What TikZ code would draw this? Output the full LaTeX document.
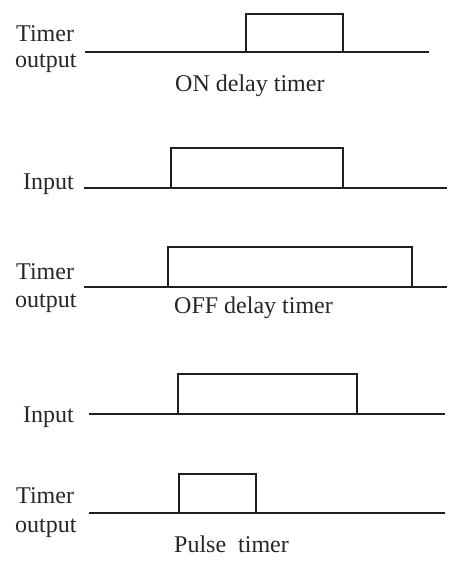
\documentclass[tikz,border=0pt]{standalone}
\usepackage{fontspec}
\setmainfont{Liberation Serif}
\begin{document}
\begin{tikzpicture}[x=1pt,y=-1pt,
  lbl/.style={anchor=base west,inner sep=0pt,font=\fontsize{24}{26}\selectfont,black!85},
  wave/.style={line width=2.8pt,line cap=butt,line join=miter,black!88}]
\useasboundingbox (0,0) rectangle (474,564);
% Panel 1: ON delay timer output
\draw[wave] (85,52) -- (429,52);
\draw[wave] (246,52) -- (246,14) -- (343,14) -- (343,52);
\node[lbl] (t1) at (16,42) {Timer};
\node[lbl] (o1) at (15,68) {output};
\node[lbl] (c1) at (175,92) {ON delay timer};
% Panel 2: Input
\draw[wave] (84,188) -- (447,188);
\draw[wave] (171,188) -- (171,148) -- (343,148) -- (343,188);
\node[lbl] (i2) at (23,189) {Input};
% Panel 3: OFF delay timer output
\draw[wave] (84,287) -- (447,287);
\draw[wave] (168,287) -- (168,247) -- (412,247) -- (412,287);
\node[lbl] (t3) at (16,279) {Timer};
\node[lbl] (o3) at (15,307) {output};
\node[lbl] (c3) at (174,313) {OFF delay timer};
% Panel 4: Input
\draw[wave] (89,414) -- (445,414);
\draw[wave] (178,414) -- (178,374) -- (357,374) -- (357,414);
\node[lbl] (i4) at (23,422) {Input};
% Panel 5: Pulse timer output
\draw[wave] (89,513) -- (445,513);
\draw[wave] (179,513) -- (179,474) -- (256,474) -- (256,513);
\node[lbl] (t5) at (16,503) {Timer};
\node[lbl] (o5) at (15,532) {output};
\node[lbl] (c5) at (174,552) {Pulse\hspace{0.5em}timer};
\end{tikzpicture}
\end{document}
